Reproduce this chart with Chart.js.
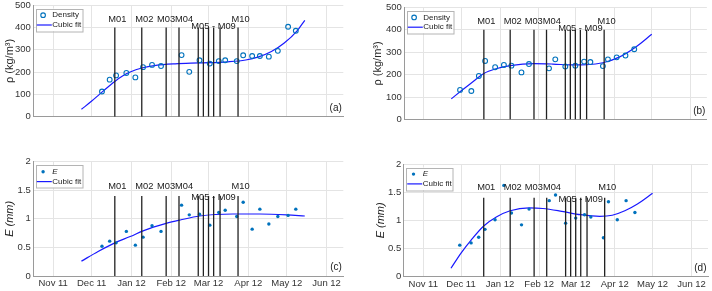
<!DOCTYPE html>
<html>
<head>
<meta charset="utf-8">
<script src="https://cdn.jsdelivr.net/npm/chart.js@4.4.1/dist/chart.umd.min.js"></script>
<style>
  html, body { margin: 0; padding: 0; background: #fff; }
  #wrap { position: relative; width: 712px; height: 291px; }
  canvas { position: absolute; }
</style>
</head>
<body>
<div id="wrap">
  <canvas id="ca" width="356" height="145" style="left:0;top:0"></canvas>
  <canvas id="cb" width="356" height="145" style="left:356px;top:0"></canvas>
  <canvas id="cc" width="356" height="146" style="left:0;top:145px"></canvas>
  <canvas id="cd" width="356" height="146" style="left:356px;top:145px"></canvas>
</div>
<script>
// all x values are days counted from 1 Nov 2011
const monthDays = [0, 30, 61, 92, 121, 152, 182, 213];
const monthLabels = ['Nov 11', 'Dec 11', 'Jan 12', 'Feb 12', 'Mar 12', 'Apr 12', 'May 12', 'Jun 12'];

// sampling days (left column, right column)
const daysLeft = [38, 44, 49, 57, 64, 70, 77, 84, 100, 106, 114, 122, 129, 134, 143, 148, 155, 161, 168, 175, 183, 189];
const daysRight = [29, 38, 44, 49, 57, 64, 70, 78, 84, 100, 105, 113, 121, 128, 133, 143, 147, 154, 161, 168];

// M01 .. M10
const markDays = [48, 69, 88, 98, 113, 117, 121, 125, 130, 144];
const markNames = ['M01', 'M02', 'M03', 'M04', 'M05', 'M06', 'M07', 'M08', 'M09', 'M10'];

// measured values
const densityA = [113, 166, 185, 196, 176, 222, 232, 227, 276, 201, 253, 238, 249, 253, 249, 275, 272, 272, 269, 295, 403, 385];
const densityB = [132, 127, 194, 261, 233, 243, 240, 210, 247, 228, 268, 236, 240, 258, 256, 238, 268, 277, 285, 313];
const eC = [0.52, 0.61, 0.58, 0.78, 0.54, 0.68, 0.88, 0.78, 1.24, 1.07, 1.08, 0.89, 1.11, 1.15, 1.04, 1.29, 0.82, 1.17, 0.91, 1.04, 1.06, 1.17];
const eD = [0.56, 0.60, 0.70, 0.84, 1.01, 1.62, 1.13, 0.92, 1.20, 1.35, 1.45, 0.95, 1.04, 1.10, 1.06, 0.69, 1.33, 1.01, 1.35, 1.14];

// cubic fit curves
const fitDaysA = [22, 30, 36, 42, 48, 54, 60, 69, 80, 95, 114, 136, 150, 160, 170, 180, 190, 196];
const fitA = [33, 70, 100, 130, 158, 182, 200, 218, 230, 237, 241, 246, 254, 268, 292, 330, 385, 432];
const fitDaysB = [22, 30, 38, 48, 57, 69, 88, 103, 119, 130, 143, 156, 169, 182];
const fitB = [92, 128, 163, 205, 225, 240, 249, 247, 243, 244, 253, 278, 322, 380];
const fitDaysC = [22, 35, 48, 60, 70, 88, 99, 114, 140, 161, 182, 196];
const fitC = [0.26, 0.43, 0.58, 0.69, 0.79, 0.92, 0.98, 1.05, 1.085, 1.085, 1.07, 1.05];
const fitDaysD = [22, 30, 38, 48, 58, 69, 84, 95, 110, 125, 140, 150, 160, 170, 182];
const fitD = [0.15, 0.42, 0.65, 0.90, 1.06, 1.17, 1.22, 1.21, 1.16, 1.10, 1.07, 1.09, 1.17, 1.29, 1.48];

Chart.defaults.font.family = '"Liberation Sans", Arial, sans-serif';

const DOT = '#0072BD';
const FIT = 'rgb(25,25,255)';
const GRID = '#e4e4e4';
const AXIS = '#9a9a9a';
const TXT = '#333';

// labels above the vertical lines: [first mark, last mark, lower row, x nudge]
const markLabels = [
  { text: markNames[0], a: 0, b: 0, low: false, dx: 2.5 },
  { text: markNames[1], a: 1, b: 1, low: false, dx: 2.5 },
  { text: markNames[2] + markNames[3], a: 2, b: 3, low: false, dx: 2.5 },
  { text: markNames[4] + ' - ' + markNames[8], a: 4, b: 8, low: true, dx: 4.4 },
  { text: markNames[9], a: 9, b: 9, low: false, dx: 2.5 }
];

const decor = {
  id: 'decor',
  afterDraw(chart, args, o) {
    const { ctx, chartArea: ca } = chart;
    const x = chart.scales.x, y = chart.scales.y;
    ctx.save();

    ctx.fillStyle = '#1a1a1a';
    ctx.font = '9.3px "Liberation Sans"';
    ctx.textAlign = 'center';
    ctx.textBaseline = 'alphabetic';
    markLabels.forEach(l => {
      const px = (x.getPixelForValue(markDays[l.a]) + x.getPixelForValue(markDays[l.b])) / 2 + l.dx;
      ctx.fillText(l.text, px, y.getPixelForValue(l.low ? o.labelLow : o.labelHigh));
    });

    // panel tag
    ctx.font = '10px "Liberation Sans"';
    ctx.textAlign = 'right';
    ctx.textBaseline = 'bottom';
    ctx.fillText(o.tag, ca.right - 1.5, ca.bottom - 3.5);

    // legend box
    const bx = ca.left + 2.5, by = ca.top + 3.5, bw = 46.5, bh = 22.5;
    ctx.fillStyle = '#fff';
    ctx.fillRect(bx, by, bw, bh);
    ctx.strokeStyle = '#b4b4b4';
    ctx.lineWidth = 1;
    ctx.strokeRect(Math.round(bx) + 0.5, Math.round(by) + 0.5, bw, bh);

    const r1 = by + 6.6, r2 = by + 16.4;
    ctx.beginPath();
    if (o.open) {
      ctx.arc(bx + 7.3, r1, 2.3, 0, Math.PI * 2);
      ctx.strokeStyle = DOT; ctx.lineWidth = 1.1; ctx.stroke();
    } else {
      ctx.arc(bx + 7.3, r1, 1.7, 0, Math.PI * 2);
      ctx.fillStyle = DOT; ctx.fill();
    }
    ctx.beginPath();
    ctx.moveTo(bx + 1, r2);
    ctx.lineTo(bx + 16, r2);
    ctx.strokeStyle = FIT; ctx.lineWidth = 1.2; ctx.stroke();

    ctx.fillStyle = '#1a1a1a';
    ctx.textAlign = 'left';
    ctx.textBaseline = 'middle';
    ctx.font = (o.open ? '' : 'italic ') + '8px "Liberation Sans"';
    ctx.fillText(o.name, bx + 16.5, r1);
    ctx.font = '8px "Liberation Sans"';
    ctx.fillText('Cubic fit', bx + 16.5, r2);

    ctx.restore();
  }
};

function buildChart(id, o) {
  const canvas = document.getElementById(id);
  const W = canvas.width, H = canvas.height;
  const box = o.box;

  const pts = o.days.map((d, i) => ({ x: d, y: o.values[i] }));
  const fit = o.fitDays.map((d, i) => ({ x: d, y: o.fit[i] }));
  const marks = [];
  markDays.forEach(d => marks.push({ x: d, y: 0 }, { x: d, y: o.markTop }, { x: d, y: null }));

  new Chart(canvas, {
    type: 'line',
    data: {
      datasets: [
        { data: marks, borderColor: '#222', borderWidth: 1.3, pointRadius: 0, tension: 0, spanGaps: false },
        {
          data: pts, showLine: false, pointRadius: o.open ? 2.4 : 1.7,
          pointBorderWidth: o.open ? 1.1 : 0, pointBorderColor: DOT,
          pointBackgroundColor: o.open ? 'rgba(0,0,0,0)' : DOT
        },
        { data: fit, borderColor: FIT, borderWidth: 1.2, pointRadius: 0, cubicInterpolationMode: 'monotone' }
      ]
    },
    options: {
      responsive: false,
      animation: false,
      events: [],
      layout: { padding: { left: 0, top: box.top, right: W - box.right, bottom: 0 } },
      plugins: {
        legend: { display: false },
        tooltip: { enabled: false },
        decor: { tag: o.tag, name: o.name, open: o.open, labelHigh: o.labelHigh, labelLow: o.labelLow }
      },
      scales: {
        x: {
          type: 'linear', min: -15.5, max: 226,
          afterBuildTicks: s => { s.ticks = monthDays.map(v => ({ value: v })); },
          afterFit: s => { s.height = H - box.bottom; s.paddingLeft = 0; s.paddingRight = 0; },
          ticks: {
            display: o.showX, autoSkip: false, maxRotation: 0, padding: 1.5,
            color: TXT, font: { size: 9.5 },
            callback: (v, i) => monthLabels[i]
          },
          grid: { color: GRID, drawTicks: false },
          border: { color: AXIS }
        },
        y: {
          min: 0, max: o.yMax,
          ticks: {
            stepSize: o.yStep, padding: 2.5, color: TXT, font: { size: 9.5 },
            callback: v => String(v)
          },
          afterFit: s => { s.width = box.left; s.paddingTop = 0; s.paddingBottom = 0; },
          title: {
            display: true, text: o.yTitle, color: '#262626',
            font: { size: 11, style: o.open ? 'normal' : 'italic' },
            padding: { top: o.titlePad, bottom: 0 }
          },
          grid: { color: GRID, drawTicks: false },
          border: { color: AXIS }
        }
      }
    },
    plugins: [decor]
  });
}

buildChart('ca', {
  box: { left: 33.3, right: 343.3, top: 3.3, bottom: 116.7 },
  days: daysLeft, values: densityA, fitDays: fitDaysA, fit: fitA,
  yMax: 500, yStep: 100, markTop: 400, labelHigh: 425, labelLow: 395,
  yTitle: 'ρ (kg/m³)', titlePad: 3.5, tag: '(a)', name: 'Density', open: true, showX: false
});
buildChart('cb', {
  box: { left: 48.3, right: 354, top: 7.3, bottom: 119.5 },
  days: daysRight, values: densityB, fitDays: fitDaysB, fit: fitB,
  yMax: 500, yStep: 100, markTop: 400, labelHigh: 425, labelLow: 395,
  yTitle: 'ρ (kg/m³)', titlePad: 15.5, tag: '(b)', name: 'Density', open: true, showX: false
});
buildChart('cc', {
  box: { left: 33.3, right: 343.3, top: 16.7, bottom: 131 },
  days: daysLeft, values: eC, fitDays: fitDaysC, fit: fitC,
  yMax: 2, yStep: 0.5, markTop: 1.4, labelHigh: 1.52, labelLow: 1.33,
  yTitle: 'E (mm)', titlePad: 3.5, tag: '(c)', name: 'E', open: false, showX: true
});
buildChart('cd', {
  box: { left: 47.7, right: 354, top: 19, bottom: 131.7 },
  days: daysRight, values: eD, fitDays: fitDaysD, fit: fitD,
  yMax: 2, yStep: 0.5, markTop: 1.4, labelHigh: 1.53, labelLow: 1.33,
  yTitle: 'E (mm)', titlePad: 18.5, tag: '(d)', name: 'E', open: false, showX: true
});
</script>
</body>
</html>
